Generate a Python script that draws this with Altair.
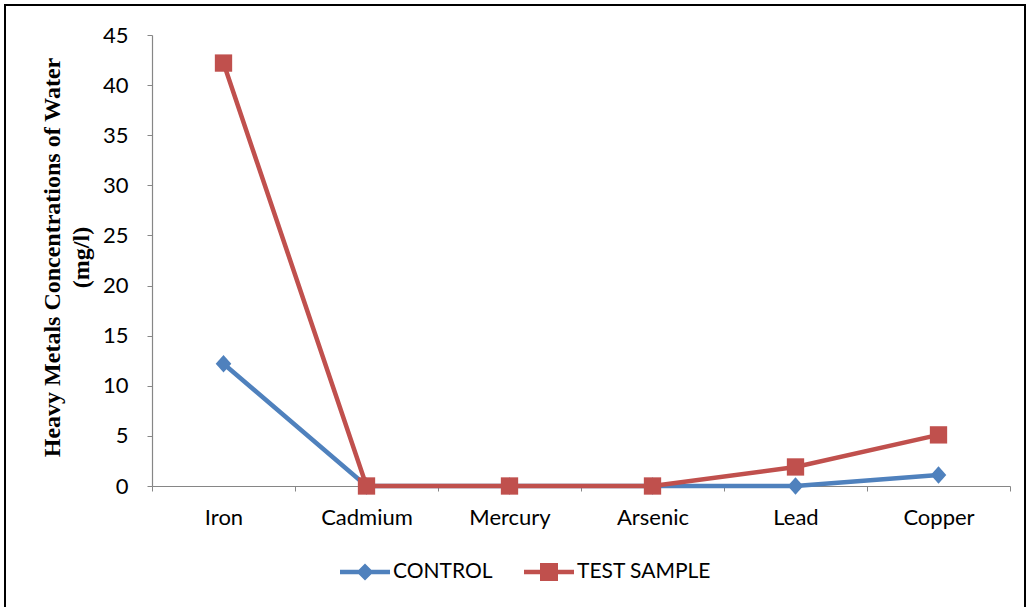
import altair as alt
import pandas as pd

metals = ["Iron", "Cadmium", "Mercury", "Arsenic", "Lead", "Copper"]
control = [12.2, 0, 0, 0, 0, 1.1]
test = [42.2, 0, 0, 0, 1.9, 5.1]
series_names = ["CONTROL", "TEST SAMPLE"]
y_ticks = [0, 5, 10, 15, 20, 25, 30, 35, 40, 45]
y_title = ["Heavy Metals Concentrations of Water", "(mg/l)\u00a0\u00a0\u00a0\u00a0"]

BLUE = "#4F81BD"
RED = "#C0504D"
DIAMOND = "M0,-1L0.9,0L0,1L-0.9,0Z"
LEG_CONTROL = "M-1,-0.09L1,-0.09L1,0.09L-1,0.09Z M0,-0.34L0.34,0L0,0.34L-0.34,0Z"
LEG_TEST = "M-1,-0.09L1,-0.09L1,0.09L-1,0.09Z M-0.36,-0.36L0.36,-0.36L0.36,0.36L-0.36,0.36Z"

df = pd.DataFrame({
    "metal": metals * 2,
    "series": [series_names[0]] * len(metals) + [series_names[1]] * len(metals),
    "value": control + test,
})

x = alt.X(
    "metal:N", sort=metals,
    scale=alt.Scale(type="band", paddingInner=0, paddingOuter=0),
    axis=alt.Axis(title=None, tickBand="extent", labelAngle=0, tickSize=5,
                  labelPadding=16, labelFontSize=22),
)
y = alt.Y(
    "value:Q",
    scale=alt.Scale(domain=[0, 45], nice=False),
    axis=alt.Axis(values=y_ticks, tickSize=5, labelPadding=19, labelFontSize=22,
                  title=y_title,
                  titleFont="Liberation Serif", titleFontWeight="bold",
                  titleFontSize=24, titleLineHeight=29, titleColor="black",
                  titleAngle=-90, titleX=-112, titleY=222,
                  titleBaseline="top", titleAlign="center"),
)

base = alt.Chart(df)
c_data = base.transform_filter(alt.datum.series == series_names[0])
t_data = base.transform_filter(alt.datum.series == series_names[1])

c_line = c_data.mark_line(strokeWidth=4.5, color=BLUE).encode(x=x, y=y)
c_pts = c_data.mark_point(filled=True, shape=DIAMOND, size=300, color=BLUE, opacity=1).encode(x=x, y=y)
t_line = t_data.mark_line(strokeWidth=4.5, color=RED).encode(x=x, y=y)
t_pts = t_data.mark_point(filled=True, shape="square", size=300, color=RED, opacity=1).encode(x=x, y=y)

legend_props = dict(
    title=None, orient="none", legendX=188, legendY=512, direction="horizontal",
    symbolSize=2500, symbolStrokeWidth=0, labelFont="Lato", labelFontSize=21,
    labelColor="black", labelOffset=3, columnPadding=31, symbolOpacity=1,
)
legend_layer = base.transform_filter("false").mark_point(filled=True, opacity=1, size=2500).encode(
    color=alt.Color("series:N", scale=alt.Scale(domain=series_names, range=[BLUE, RED]),
                    legend=alt.Legend(**legend_props)),
    shape=alt.Shape("series:N", scale=alt.Scale(domain=series_names, range=[LEG_CONTROL, LEG_TEST]),
                    legend=alt.Legend(**legend_props)),
)

border = alt.Chart(pd.DataFrame({"a": [0]})).mark_rect(
    fillOpacity=0, stroke="black", strokeWidth=2, clip=False
).encode(x=alt.value(-147), x2=alt.value(873), y=alt.value(-30), y2=alt.value(585))

chart = alt.layer(border, c_line, c_pts, t_line, t_pts, legend_layer).properties(
    width=858, height=451,
    padding={"left": 152, "top": 35, "right": 18, "bottom": 121},
    autosize="none", background="white",
).configure_view(stroke=None).configure_axis(
    grid=False, domainColor="#868686", tickColor="#868686", domainWidth=1.2,
    labelFont="Lato", labelColor="black",
)

chart.save("out.html", embed_options={"renderer": "svg", "actions": False})
